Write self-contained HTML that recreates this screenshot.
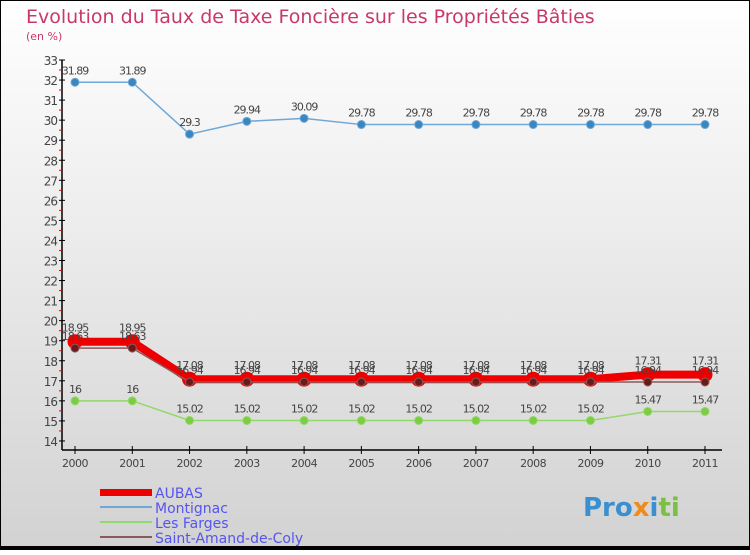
<!DOCTYPE html>
<html><head><meta charset="utf-8"><style>
body{margin:0}
svg text{font-family:"DejaVu Sans","Liberation Sans",sans-serif}
</style></head><body>
<svg width="750" height="550" viewBox="0 0 750 550" xmlns="http://www.w3.org/2000/svg">
<defs><linearGradient id="bg" x1="0" y1="0" x2="0" y2="1"><stop offset="0" stop-color="#ffffff"/><stop offset="1" stop-color="#d2d2d2"/></linearGradient></defs>
<rect x="0.5" y="0.5" width="749" height="549" fill="url(#bg)" stroke="#000"/>
<text x="26" y="23" font-size="19" fill="#c8386a">Evolution du Taux de Taxe Foncière sur les Propriétés Bâties</text>
<text x="26" y="40" font-size="11" fill="#c8386a">(en %)</text>
<g id="axes"></g><g id="series"></g>
<g>
<rect x="100" y="489" width="52" height="7" fill="#ee0000"/>
<text x="155" y="498" font-size="14" fill="#5555ee">AUBAS</text>
<rect x="100" y="506" width="52" height="2" fill="#6fa7d6"/>
<text x="155" y="513" font-size="14" fill="#5555ee">Montignac</text>
<rect x="100" y="521" width="52" height="2" fill="#93d86a"/>
<text x="155" y="528" font-size="14" fill="#5555ee">Les Farges</text>
<rect x="100" y="536" width="52" height="2" fill="#8b5a5a"/>
<text x="155" y="543" font-size="14" fill="#5555ee">Saint-Amand-de-Coly</text>
</g>
<text x="583" y="516" font-size="26" font-weight="bold" fill="#3a8fd0">Pro<tspan fill="#f08a1a">x</tspan><tspan fill="#3a8fd0">i</tspan><tspan fill="#7ac043">ti</tspan></text>
<rect x="0" y="546" width="750" height="4" fill="#000"/>
</svg>
<script>
const years=[2000,2001,2002,2003,2004,2005,2006,2007,2008,2009,2010,2011];
const yTicks=[14,15,16,17,18,19,20,21,22,23,24,25,26,27,28,29,30,31,32,33];
const aubas=[18.95,18.95,17.08,17.08,17.08,17.08,17.08,17.08,17.08,17.08,17.31,17.31];
const montignac=[31.89,31.89,29.3,29.94,30.09,29.78,29.78,29.78,29.78,29.78,29.78,29.78];
const lesFarges=[16,16,15.02,15.02,15.02,15.02,15.02,15.02,15.02,15.02,15.47,15.47];
const saintAmand=[18.63,18.63,16.94,16.94,16.94,16.94,16.94,16.94,16.94,16.94,16.94,16.94];
const NS="http://www.w3.org/2000/svg";
const xS=i=>75+i*(630/(years.length-1));
const yS=v=>60+(33-v)*20.05;
function mk(t,a,p){const e=document.createElementNS(NS,t);for(const k in a)e.setAttribute(k,a[k]);p.appendChild(e);return e;}
const ax=document.getElementById('axes');
let e=mk('line',{x1:62,y1:yS(33),x2:62,y2:450,stroke:'#000','stroke-width':1.5},ax);


e=mk('line',{x1:62,y1:450,x2:722,y2:450,stroke:'#000','stroke-width':1.5},ax);


yTicks.forEach(v=>{
 mk('line',{x1:59,y1:yS(v),x2:65,y2:yS(v),stroke:'#000'},ax);
 if(v<33)mk('line',{x1:59,y1:yS(v+0.5),x2:62,y2:yS(v+0.5),stroke:'#e00'},ax);
 const t=mk('text',{x:57,y:yS(v)+5,'font-size':12,fill:'#444','text-anchor':'end','letter-spacing':'-1'},ax);t.textContent=v;
 
 
});
years.forEach((y,i)=>{
 mk('line',{x1:xS(i),y1:446,x2:xS(i),y2:454,stroke:'#000'},ax);
 const t=mk('text',{x:xS(i),y:467,'font-size':11,fill:'#444','text-anchor':'middle','letter-spacing':'-0.5'},ax);t.textContent=y;
 
 
});
const sg=document.getElementById('series');
function series(vals,name,color,w,r,dot,lblDy){
 const g=mk('g',{},sg);
 
 
 mk('polyline',{points:vals.map((v,i)=>xS(i)+','+yS(v)).join(' '),fill:'none',stroke:color,'stroke-width':w},g);
 vals.forEach((v,i)=>{
  const c=mk('circle',{cx:xS(i),cy:yS(v),r:r,fill:dot,stroke:color,'stroke-width':1},g);
  
  
  const t=mk('text',{x:xS(i),y:yS(v)+lblDy,'font-size':11,fill:'#444','text-anchor':'middle','letter-spacing':'-1'},g);
  t.textContent=v;
  
  
 });
}
series(montignac,'montignac','#6fa7d6',1.5,4,'#3a86c0',-8);
series(lesFarges,'les-farges','#93d86a',1.5,4,'#7ccc44',-8);
series(aubas,'aubas','#ee0000',8,7,'#ee0000',-10);
series(saintAmand,'saint-amand','#8b5a5a',1.5,4,'#6b1a1a',-8);
</script>
</body></html>
